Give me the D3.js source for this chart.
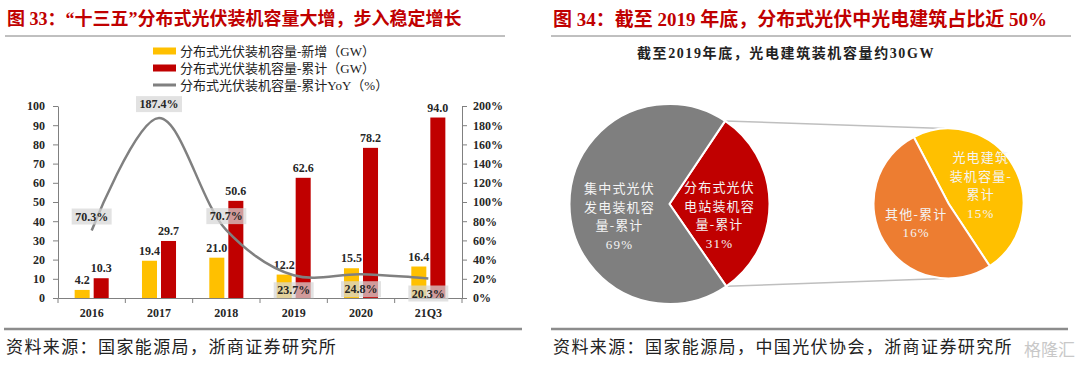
<!DOCTYPE html>
<html>
<head>
<meta charset="utf-8">
<script src="https://cdn.jsdelivr.net/npm/d3@7"></script>
<style>
  body { margin: 0; background: #fff; }
  svg text { font-family: "Liberation Serif", "Noto Sans CJK SC", serif; }
</style>
</head>
<body>
<div id="chart"></div>
<script>
// left chart: 分布式光伏装机容量
const categories = ["2016", "2017", "2018", "2019", "2020", "21Q3"];
const newAdded = [4.2, 19.4, 21.0, 12.2, 15.5, 16.4];      // GW
const cumulative = [10.3, 29.7, 50.6, 62.6, 78.2, 94.0];   // GW
const cumulativeYoY = [70.3, 187.4, 70.7, 23.7, 24.8, 20.3]; // %
const yoyLabelSide = ["above", "above", "above", "below", "below", "below"];
const leftTicks = [0, 10, 20, 30, 40, 50, 60, 70, 80, 90, 100];
const rightTicks = [0, 20, 40, 60, 80, 100, 120, 140, 160, 180, 200];
const legendNames = ["分布式光伏装机容量-新增（GW）", "分布式光伏装机容量-累计（GW）", "分布式光伏装机容量-累计YoY（%）"];

// right chart: 截至2019年底装机结构 (%)
const mainPieValues = [31, 69];
const mainPieLabels = [["分布式光伏", "电站装机容", "量-累计"], ["集中式光伏", "发电装机容", "量-累计"]];
const subPieValues = [15, 16];
const subPieLabels = [["光电建筑", "装机容量-", "累计"], ["其他-累计"]];

const width = 1080, height = 366;
const red = "#C00000", yellow = "#FFC000", gray = "#7F7F7F", orange = "#ED7D31";

const svg = d3.select("#chart").append("svg")
    .attr("width", width)
    .attr("height", height)
    .attr("viewBox", [0, 0, width, height]);

// ---- headers and footers
function header(x, x2, title, size) {
  svg.append("text")
      .attr("x", x).attr("y", 19)
      .attr("dominant-baseline", "central")
      .attr("fill", red)
      .attr("font-size", size)
      .attr("font-weight", "bold")
      .text(title);
  svg.append("line")
      .attr("x1", x - 2).attr("x2", x2)
      .attr("y1", 36).attr("y2", 36)
      .attr("stroke", "#808080").attr("stroke-width", 1);
}
function footer(x, x2, source) {
  svg.append("line")
      .attr("x1", x - 2).attr("x2", x2)
      .attr("y1", 329).attr("y2", 329)
      .attr("stroke", "#8c8c8c").attr("stroke-width", 2.5);
  svg.append("text")
      .attr("x", x).attr("y", 347)
      .attr("dominant-baseline", "central")
      .attr("fill", "#222")
      .attr("font-size", 17)
      .attr("letter-spacing", 1.4)
      .text(source);
}
header(7, 505, "图 33：“十三五”分布式光伏装机容量大增，步入稳定增长", 18);
header(553, 1071, "图 34：截至 2019 年底，分布式光伏中光电建筑占比近 50%", 19);
footer(6, 522, "资料来源：国家能源局，浙商证券研究所");
footer(553, 1068, "资料来源：国家能源局，中国光伏协会，浙商证券研究所");
svg.append("text")
    .attr("x", 1024).attr("y", 348)
    .attr("dominant-baseline", "central")
    .attr("fill", "#c8c8c8")
    .attr("font-size", 17)
    .style("font-family", "Noto Sans CJK SC")
    .text("格隆汇");

// ---- left: bars + YoY line
const x = d3.scaleBand(categories, [58, 462]);
const x1 = d3.scaleBand(["new", "cum"], [0, x.bandwidth()]).paddingInner(0.21).paddingOuter(0.875);
const yL = d3.scaleLinear([0, 100], [298, 106]);
const yR = d3.scaleLinear([0, 200], [298, 106]);

const axisColor = "#808080";
const tickFont = g => g.selectAll("text")
    .attr("font-size", 12).attr("font-weight", "bold").attr("fill", "#262626")
    .style("font-family", "Liberation Serif");

svg.append("g")
    .attr("transform", "translate(58,0)")
    .call(d3.axisLeft(yL).tickValues(leftTicks).tickSize(5).tickSizeOuter(0).tickPadding(8))
    .call(g => g.selectAll("path,line").attr("stroke", axisColor))
    .call(tickFont);

svg.append("g")
    .attr("transform", "translate(462,0)")
    .call(d3.axisRight(yR).tickValues(rightTicks).tickSize(5).tickSizeOuter(0).tickPadding(6)
      .tickFormat(d => d + "%"))
    .call(g => g.selectAll("path,line").attr("stroke", axisColor))
    .call(tickFont);

svg.append("g")
    .attr("transform", "translate(0,298)")
    .call(d3.axisBottom(x).tickSize(0).tickSizeOuter(0).tickPadding(10))
    .call(g => g.select("path").attr("stroke", axisColor))
    .call(tickFont)
    .call(g => g.selectAll(".bound")
      .data(categories.map(c => x(c)).concat([x.range()[1]]))
      .join("line")
        .attr("class", "bound")
        .attr("x1", d => d).attr("x2", d => d)
        .attr("y1", 0).attr("y2", 5)
        .attr("stroke", axisColor));

const barData = categories.flatMap((c, i) => [
  {cat: c, key: "new", value: newAdded[i], color: yellow},
  {cat: c, key: "cum", value: cumulative[i], color: red}
]);

svg.append("g")
  .selectAll("rect")
  .data(barData)
  .join("rect")
    .attr("x", d => x(d.cat) + x1(d.key))
    .attr("width", x1.bandwidth())
    .attr("y", d => yL(d.value))
    .attr("height", d => yL(0) - yL(d.value))
    .attr("fill", d => d.color);

svg.append("g")
    .attr("font-size", 12)
    .attr("font-weight", "bold")
    .attr("fill", "#262626")
    .attr("text-anchor", "middle")
  .selectAll("text")
  .data(barData)
  .join("text")
    .attr("x", d => x(d.cat) + x1(d.key) + x1.bandwidth() / 2)
    .attr("y", d => yL(d.value) - 6)
    .text(d => d.value.toFixed(1));

const yoyPts = categories.map((c, i) => [x(c) + x.bandwidth() / 2, yR(cumulativeYoY[i])]);

svg.append("path")
    .attr("d", d3.line().curve(d3.curveCatmullRom.alpha(0.5))(yoyPts))
    .attr("fill", "none")
    .attr("stroke", "#808080")
    .attr("stroke-width", 2.5);

const yoyLabel = svg.append("g")
  .selectAll("g")
  .data(cumulativeYoY)
  .join("g")
    .attr("transform", (d, i) => `translate(${yoyPts[i][0]},${yoyPts[i][1] + (yoyLabelSide[i] === "above" ? -14 : 15)})`);
yoyLabel.append("rect")
    .attr("x", d => d >= 100 ? -23 : -20).attr("y", -8)
    .attr("width", d => d >= 100 ? 46 : 40).attr("height", 16)
    .attr("fill", "rgba(215,215,215,0.72)");
yoyLabel.append("text")
    .attr("text-anchor", "middle")
    .attr("dominant-baseline", "central")
    .attr("font-size", 12)
    .attr("font-weight", "bold")
    .attr("fill", "#262626")
    .text(d => d.toFixed(1) + "%");

// legend
const legendColors = [yellow, red, "#808080"];
const legend = svg.append("g")
  .selectAll("g")
  .data(legendNames)
  .join("g")
    .attr("transform", (d, i) => `translate(153,${51 + i * 17})`);
legend.append("rect")
    .attr("x", 0).attr("width", 23)
    .attr("y", (d, i) => i === 2 ? -1.5 : -3.5)
    .attr("height", (d, i) => i === 2 ? 3 : 7)
    .attr("fill", (d, i) => legendColors[i]);
legend.append("text")
    .attr("x", 27)
    .attr("dominant-baseline", "central")
    .attr("font-size", 13)
    .attr("fill", "#222")
    .text(d => d);

// ---- right: pie of pie
svg.append("text")
    .attr("x", 786).attr("y", 53)
    .attr("text-anchor", "middle")
    .attr("dominant-baseline", "central")
    .attr("font-size", 14)
    .attr("font-weight", "bold")
    .attr("letter-spacing", 1.6)
    .attr("fill", "#222")
    .text("截至2019年底，光电建筑装机容量约30GW");

const rad = d => d * Math.PI / 180;
const main = {cx: 669.5, cy: 204, r: 100};
const sub = {cx: 948.5, cy: 203.5, r: 75};

const mainArcs = d3.pie().sort(null).startAngle(rad(33.8)).endAngle(rad(33.8) + 2 * Math.PI)(mainPieValues);
const subArcs = d3.pie().sort(null).startAngle(rad(-27.6)).endAngle(rad(-27.6) + 2 * Math.PI)(subPieValues);

// connector lines from the 分布式 slice to the second pie
const a0 = mainArcs[0].startAngle, a1 = mainArcs[0].endAngle;
const connectors = [
  [[main.cx + main.r * Math.sin(a0), main.cy - main.r * Math.cos(a0)], [sub.cx - 4, sub.cy - sub.r]],
  [[main.cx + main.r * Math.sin(a1), main.cy - main.r * Math.cos(a1)], [sub.cx - 4, sub.cy + sub.r]]
];
svg.append("g")
  .selectAll("line")
  .data(connectors)
  .join("line")
    .attr("x1", d => d[0][0]).attr("y1", d => d[0][1])
    .attr("x2", d => d[1][0]).attr("y2", d => d[1][1])
    .attr("stroke", "#bfbfbf")
    .attr("stroke-width", 1.5);

function drawPie(p, arcs, colors, labels, labelDy) {
  const arc = d3.arc().innerRadius(0).outerRadius(p.r);
  const labelArc = d3.arc().innerRadius(p.r * 0.5).outerRadius(p.r * 0.5);
  const g = svg.append("g").attr("transform", `translate(${p.cx},${p.cy})`);
  g.selectAll("path")
    .data(arcs)
    .join("path")
      .attr("d", arc)
      .attr("fill", (d, i) => colors[i])
      .attr("stroke", "#fff")
      .attr("stroke-width", 2);
  const lh = 18.5;
  g.selectAll("text")
    .data(arcs)
    .join("text")
      .attr("transform", d => {
        const [cx, cy] = labelArc.centroid(d);
        return `translate(${cx},${cy + labelDy})`;
      })
      .attr("text-anchor", "middle")
      .attr("font-size", 13)
      .attr("letter-spacing", 1.2)
      .attr("fill", "#f4f4f4")
    .selectAll("tspan")
    .data((d, i) => labels[i].concat([d.data + "%"]).map((t, j, all) => ({t, j, n: all.length})))
    .join("tspan")
      .attr("x", 0)
      .attr("y", d => (d.j - (d.n - 1) / 2) * lh)
      .attr("dominant-baseline", "central")
      .text(d => d.t);
}

drawPie(main, mainArcs, [red, gray], mainPieLabels, 12);
drawPie(sub, subArcs, [yellow, orange], subPieLabels, 1);
</script>
</body>
</html>
